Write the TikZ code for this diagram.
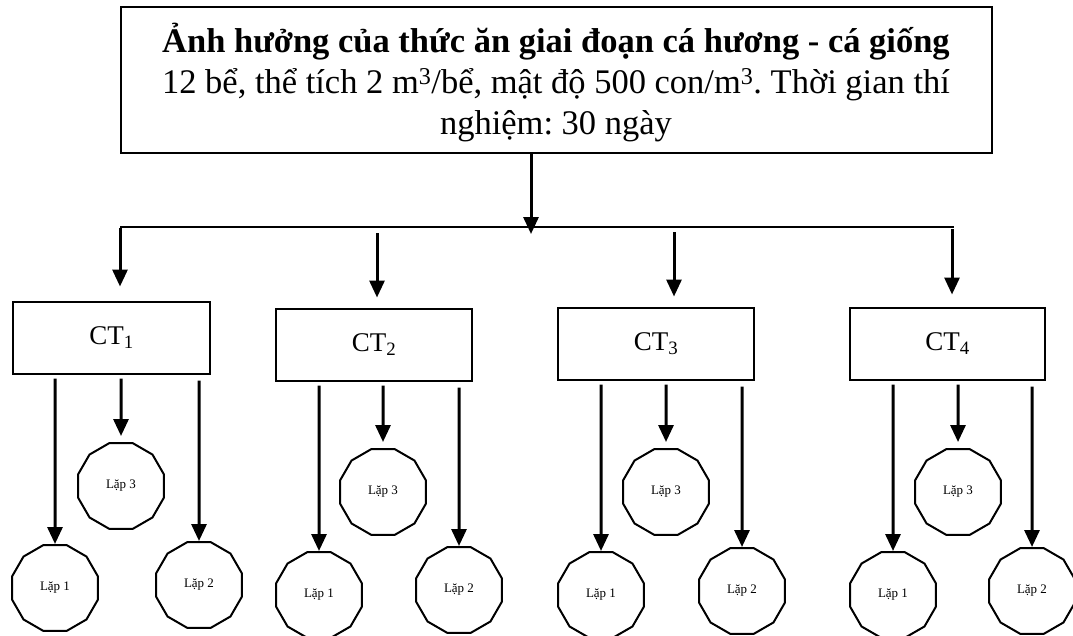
\documentclass[tikz,border=0pt]{standalone}
\usepackage{fontspec}
\setmainfont{Liberation Serif}
\usetikzlibrary{arrows.meta,shapes.geometric}

\tikzset{
  box/.style={draw, line width=2pt, rectangle, inner sep=0pt},
  rep/.style={draw, line width=2pt, regular polygon, regular polygon sides=12,
              minimum size=89pt, inner sep=0pt, font=\fontsize{13}{15}\selectfont},
  arr/.style={line width=3pt, -{Triangle[length=17pt,width=15pt]}},
  bus/.style={line width=2.4pt}
}

\begin{document}
\frenchspacing
\begin{tikzpicture}[x=1pt,y=-1pt]
\useasboundingbox (0,0) rectangle (1073,635);

% header box and its text
\node[box, minimum width=871pt, minimum height=146pt] (head) at (556,80) {};
\node[align=center, inner sep=0pt, font=\fontsize{34.5}{41}\selectfont] (headtxt) at (556,83)
  {\textbf{Ảnh hưởng của thức ăn giai đoạn cá hương - cá giống}\\
   12 bể, thể tích 2 m\textsuperscript{3}/bể, mật độ 500 con/m\textsuperscript{3}. Thời gian thí\\
   nghiệm: 30 ngày};

% distribution bar
\coordinate (bl) at (120,227);
\coordinate (br) at (954,227);
\coordinate (bin) at (531,234);
\draw[bus] (bl) -- (br);
\draw[arr] (head.south -| bin) -- (bin);

% treatment boxes
\foreach \n/\cx/\cy/\w in {1/111.5/337.5/197, 2/374/344.5/196, 3/656/343.5/196, 4/947.5/343.5/195}{
  \node[box, minimum width=\w pt, minimum height=72pt, font=\fontsize{27}{30}\selectfont]
    (ct\n) at (\cx,\cy) {\raisebox{3pt}{CT\textsubscript{\n}}};
}

% taps on the bar
\coordinate (t1) at (120,228);
\coordinate (t2) at (377,233);
\coordinate (t3) at (674,232);
\coordinate (t4) at (952,229);
\draw[arr, shorten >=14pt] (t1) -- (ct1.north -| t1);
\draw[arr, shorten >=10pt] (t2) -- (ct2.north -| t2);
\draw[arr, shorten >=10pt] (t3) -- (ct3.north -| t3);
\draw[arr, shorten >=12pt] (t4) -- (ct4.north -| t4);

% replicates
\foreach \n/\ax/\ay/\bx/\by/\cx/\cy in {
   1/55/588/199/585/121/486,
   2/319/595/459/590/383/492,
   3/601/595/742/591/666/492,
   4/893/595/1032/591/958/492}{
  \node[rep] (r\n a) at (\ax,\ay) {Lặp 1};
  \node[rep] (r\n b) at (\bx,\by) {Lặp 2};
  \node[rep] (r\n c) at (\cx,\cy) {Lặp 3};
  \draw[arr, shorten <=4pt] (ct\n.south -| r\n a) -- (r\n a.north);
  \draw[arr, shorten <=6pt] (ct\n.south -| r\n b) -- (r\n b.north);
  \draw[arr, shorten <=4pt, shorten >=6pt] (ct\n.south -| r\n c) -- (r\n c.north);
}
\end{tikzpicture}
\end{document}
